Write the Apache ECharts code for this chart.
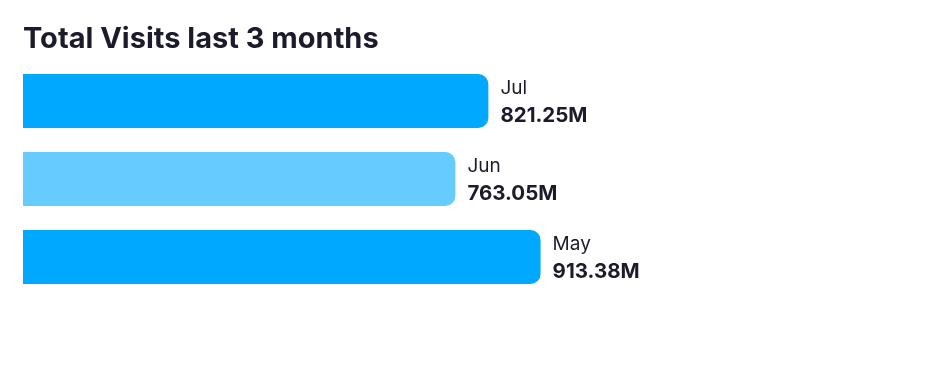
<!DOCTYPE html>
<html><head><meta charset="utf-8">
<script src="https://cdn.jsdelivr.net/npm/echarts@6/dist/echarts.min.js"></script>
<style>html,body{margin:0;padding:0;background:#fff}#c{width:925px;height:371px}</style>
</head><body><div id="c"></div>
<script>
const categories = ['Jul', 'Jun', 'May'];
const values = [821.25, 763.05, 913.38];
const barColors = ['#00A8FF', '#66CCFF', '#00A8FF'];
const titleText = 'Total Visits last 3 months';

const chart = echarts.init(document.getElementById('c'));
chart.setOption({
  animation: false,
  title: {
    text: titleText, left: 18, top: 20,
    textStyle: {fontFamily: 'Inter', fontWeight: 'bold', fontSize: 29, color: '#1b1b2b'}
  },
  grid: {left: 23, right: 52, top: 62, bottom: 75, containLabel: false},
  xAxis: {type: 'value', min: 0, max: 1500, show: false},
  yAxis: {type: 'category', data: categories, inverse: true, show: false},
  series: [{
    type: 'bar',
    barWidth: 54,
    data: values.map((v, i) => ({value: v, itemStyle: {color: barColors[i]}})),
    itemStyle: {borderRadius: [0, 10, 10, 0]},
    label: {
      show: true, position: 'right', distance: 12, offset: [0, 1],
      formatter: p => '{c|' + categories[p.dataIndex] + '}\n{v|' + p.value.toFixed(2) + 'M}',
      rich: {
        c: {fontFamily: 'Inter', fontSize: 19, fontWeight: 'normal', color: '#1b1b2b', lineHeight: 27},
        v: {fontFamily: 'Inter', fontSize: 20.5, fontWeight: 'bold', color: '#1b1b2b', lineHeight: 27}
      }
    }
  }]
});
</script></body></html>
